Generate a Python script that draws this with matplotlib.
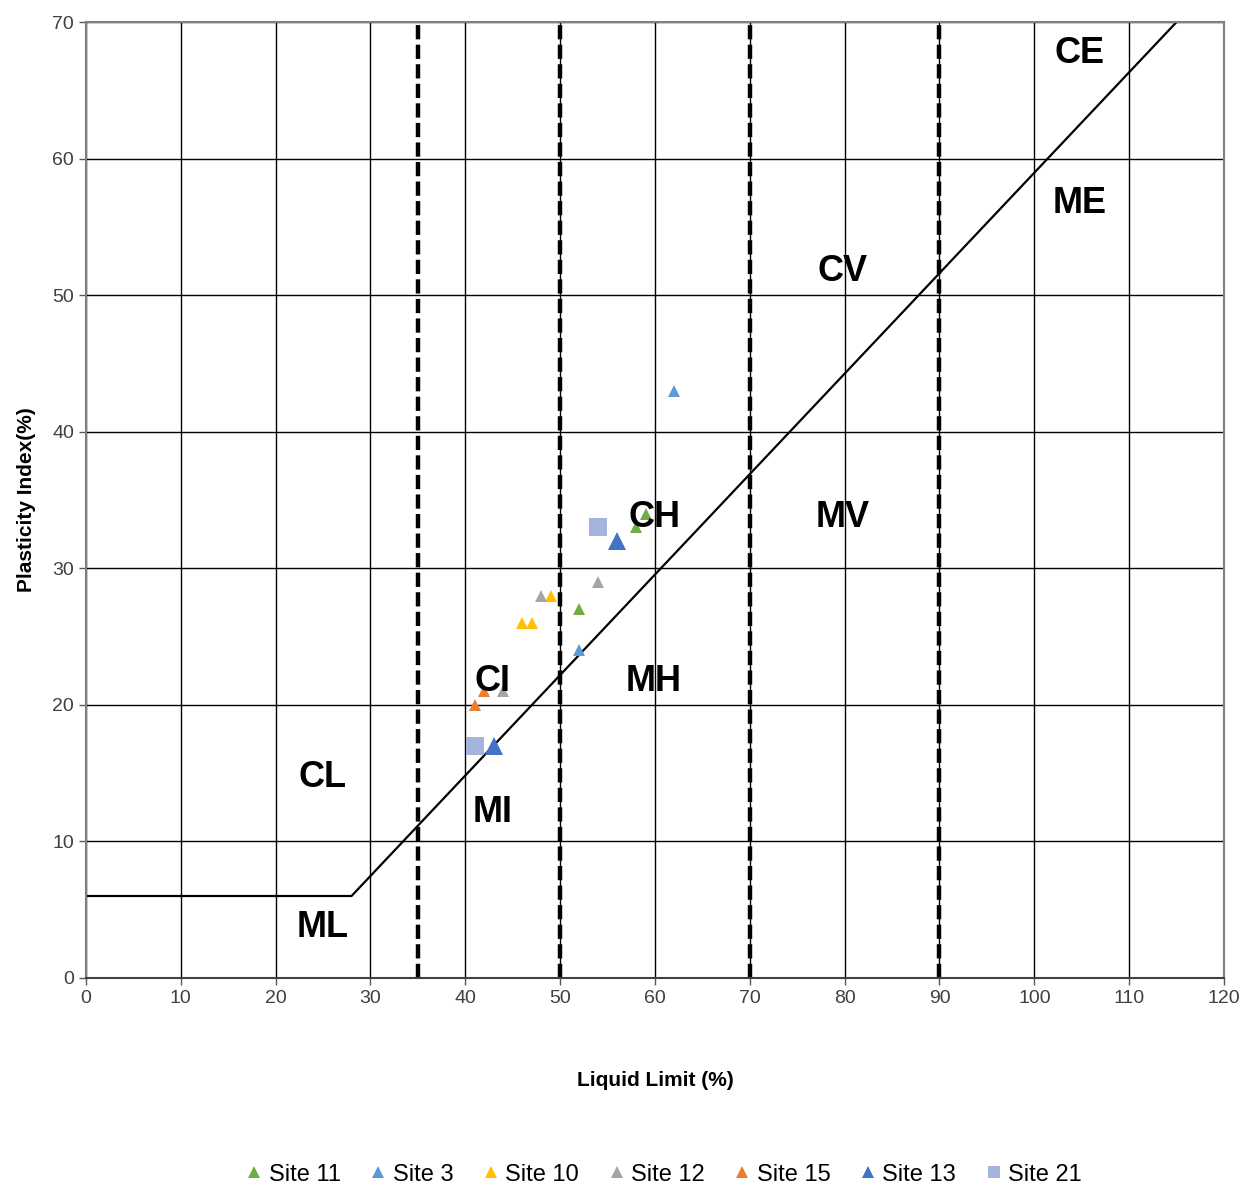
import matplotlib
matplotlib.use("Agg")
import matplotlib.pyplot as plt
from matplotlib.transforms import offset_copy

plt.rcParams['font.family'] = ['Liberation Sans', 'DejaVu Sans']

# Data (Liquid Limit, Plasticity Index)
site11_ll = [52, 58, 59]
site11_pi = [27, 33, 34]
site3_ll = [62, 52]
site3_pi = [43, 24]
site10_ll = [46, 47, 49]
site10_pi = [26, 26, 28]
site12_ll = [48, 54, 44]
site12_pi = [28, 29, 21]
site15_ll = [42, 41]
site15_pi = [21, 20]
site13_ll = [56, 43]
site13_pi = [32, 17]
site21_ll = [54, 41]
site21_pi = [33, 17]

# A-line vertices and LL boundaries
aline_ll = [0, 28, 115]
aline_pi = [6, 6, 70]
boundaries = [35, 50, 70, 90]

zone_labels = ['CE', 'ME', 'CV', 'CH', 'MV', 'CI', 'MH', 'CL', 'MI', 'ML']
zone_ll = [104.8, 104.8, 79.8, 59.9, 79.8, 42.9, 59.9, 24.9, 42.9, 24.9]
zone_pi = [68, 57, 52, 34, 34, 22, 22, 15, 12.4, 4]

fig = plt.figure(figsize=(12.59, 11.90), dpi=100)
ax = fig.add_axes([0.0683, 0.1782, 0.9039, 0.8033])

ax.set_xlim(0, 120)
ax.set_ylim(0, 70)
ax.set_xticks(range(0, 121, 10))
ax.set_yticks(range(0, 71, 10))
ax.grid(True, color='black', linewidth=1.0, zorder=0)
ax.set_axisbelow(True)
for s in ax.spines.values():
    s.set_color('#808080')
    s.set_linewidth(1.5)
ax.spines['bottom'].set_color('#404040')
ax.tick_params(axis='both', colors='#595959', labelsize=14, length=5, width=1)
ax.tick_params(axis='both', labelcolor='#404040')

ax.plot(aline_ll, aline_pi, color='black', linewidth=1.6, zorder=2)
for b in boundaries:
    ax.axvline(b, color='black', linewidth=3.2, linestyle=(0, (3.2, 1.2)), zorder=2)

series = [
    ('Site 11', site11_ll, site11_pi, '^', '#70AD47', 9),
    ('Site 3', site3_ll, site3_pi, '^', '#5B9BD5', 9),
    ('Site 10', site10_ll, site10_pi, '^', '#FFC000', 9),
    ('Site 12', site12_ll, site12_pi, '^', '#A5A5A5', 9),
    ('Site 15', site15_ll, site15_pi, '^', '#ED7D31', 9),
    ('Site 13', site13_ll, site13_pi, '^', '#4472C4', 13),
    ('Site 21', site21_ll, site21_pi, 's', '#A5B4DC', 13),
]
handles = []
for name, xs, ys, m, c, ms in series:
    ax.plot(xs, ys, linestyle='none', marker=m, color=c, markersize=ms,
            markeredgewidth=0, zorder=3)
    h, = ax.plot([], [], linestyle='none', marker=m, color=c,
                 markersize=9 if m == 's' else 8, markeredgewidth=0, label=name)
    handles.append(h)

txt_tr = offset_copy(ax.transData, fig=fig, x=0, y=-4, units='dots')
for t, x, y in zip(zone_labels, zone_ll, zone_pi):
    ax.text(x, y, t, fontsize=26, fontweight='bold', ha='center', va='center',
            zorder=4, transform=txt_tr)

ax.set_xlabel('Liquid Limit (%)', fontsize=15, fontweight='bold', labelpad=46)
ax.set_ylabel('Plasticity Index(%)', fontsize=15, fontweight='bold', labelpad=12)

fig.legend(handles=handles, loc='center', bbox_to_anchor=(0.525, 0.013), ncol=7,
           frameon=False, fontsize=17, handletextpad=0.0, columnspacing=1.0,
           handlelength=1.2)

fig.savefig('out.png', dpi=100)
